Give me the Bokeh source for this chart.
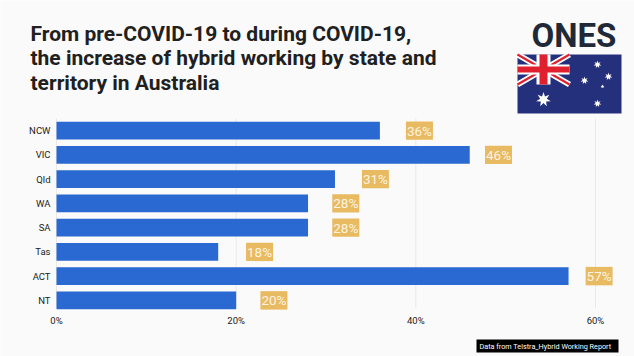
import math
from bokeh.embed import file_html
from bokeh.resources import INLINE
from bokeh.plotting import figure
from bokeh.models import ColumnDataSource, Range1d, PrintfTickFormatter, FixedTicker
from bokeh.core.properties import value

categories = ["NCW", "VIC", "Qld", "WA", "SA", "Tas", "ACT", "NT"]
values = [36, 46, 31, 28, 28, 18, 57, 20]
labels = ["36%", "46%", "31%", "28%", "28%", "18%", "57%", "20%"]
# hand-placed gap between each bar end and the start of its label, in percent points
label_gaps = [2.9, 1.7, 3.0, 2.7, 2.7, 3.1, 1.9, 2.7]
ticks = [0, 20, 40, 60]
title_lines = ["From pre-COVID-19 to during COVID-19,",
               "the increase of hybrid working by state and",
               "territory in Australia"]
source_note = "Data from Telstra_Hybrid Working Report"

BG = "#fafafa"
W, H = 634, 356
AX_L, AX_T, AX_B = 56, 118, 312      # plot area edges in page pixels
PX_PER = (595 - 56) / 60
ROW_PX = (AX_B - AX_T) / len(categories)
BOX_W = 27 / PX_PER

rows = [i + 0.5 for i in range(len(categories))]
src = ColumnDataSource(dict(
    row=rows, val=values, lab=labels,
    lx=[v + g + BOX_W / 2 for v, g in zip(values, label_gaps)],
))

p = figure(width=W, height=H, output_backend="svg", toolbar_location=None,
           x_range=Range1d(-AX_L / PX_PER, (W - AX_L) / PX_PER),
           y_range=Range1d(len(categories) + (H - AX_B) / ROW_PX, -AX_T / ROW_PX),
           min_border=0, background_fill_color=BG, border_fill_color=BG,
           outline_line_color=None)

# whole canvas is the frame, so decoration can be drawn by glyphs in page pixels
p.extra_x_ranges["px"] = Range1d(0, W)
p.extra_y_ranges["px"] = Range1d(H, 0)

p.xgrid.visible = False
p.ygrid.visible = False
for ax in (p.xaxis[0], p.yaxis[0]):
    ax.axis_line_color = None
    ax.major_tick_line_color = None
    ax.minor_tick_line_color = None
    ax.major_tick_out = 0
    ax.minor_tick_out = 0
    ax.major_label_text_font = "Roboto"
    ax.major_label_text_font_size = "9.5px"
    ax.major_label_text_color = "#222222"
p.xaxis[0].fixed_location = len(categories)
p.xaxis[0].ticker = FixedTicker(ticks=ticks)
p.xaxis[0].formatter = PrintfTickFormatter(format="%d%%")
p.xaxis[0].major_label_standoff = 2
p.yaxis[0].fixed_location = 0
p.yaxis[0].ticker = FixedTicker(ticks=rows)
p.yaxis[0].major_label_overrides = dict(zip(rows, categories))
p.yaxis[0].major_label_standoff = 6

p.segment(x0=ticks, x1=ticks, y0=[0] * len(ticks), y1=[7.8] * len(ticks),
          line_color="#e9e9e9", line_width=1)
p.hbar(y="row", right="val", left=0, height=0.74, source=src,
       fill_color="#2a69d2", line_color=None)
p.rect(x="lx", y="row", width=BOX_W, height=0.76, source=src,
       fill_color="#e8ba62", line_color=None)
p.text(x="lx", y="row", text="lab", source=src, text_align="center", text_baseline="middle",
       text_color="#fdf4e0", text_font=value("Roboto"), text_font_size="13.5px")

def lab(x, y, t, font="Roboto", size="21px", style="normal", color="#202020", baseline="middle"):
    p.text(x=[x], y=[y], text=[t], x_range_name="px", y_range_name="px",
           text_font=value(font), text_font_size=size, text_font_style=style,
           text_color=color, text_baseline=baseline)

def poly(xs, ys, color):
    p.patch(x=list(xs), y=list(ys), x_range_name="px", y_range_name="px",
            fill_color=color, line_color=None)

for i, t in enumerate(title_lines):
    lab(30, 33 + 24.5 * i, t, style="bold")

# logo
lab(531, 35, "ONES", size="33px", style="bold", color="#1f2937")

# flag
fx0, fx1, fy0, fy1 = 517, 621, 54, 113
cx0, cx1, cy1 = fx0, 569, 84
NAVY, RED = "#25307c", "#e0202e"
poly([fx0, fx1, fx1, fx0], [fy0, fy0, fy1, fy1], NAVY)
def band(x0, y0, x1, y1, w, c):
    dx, dy = x1 - x0, y1 - y0
    n = math.hypot(dx, dy)
    ox, oy = -dy / n * w / 2, dx / n * w / 2
    poly([x0 + ox, x1 + ox, x1 - ox, x0 - ox], [y0 + oy, y1 + oy, y1 - oy, y0 - oy], c)
band(cx0, fy0, cx1, cy1, 6, "#ffffff")
band(cx0, cy1, cx1, fy0, 6, "#ffffff")
band(cx0, fy0, cx1, cy1, 2.2, RED)
band(cx0, cy1, cx1, fy0, 2.2, RED)
mx, my = (cx0 + cx1) / 2, (fy0 + cy1) / 2
poly([mx - 7, mx + 7, mx + 7, mx - 7], [fy0, fy0, cy1, cy1], "#ffffff")
poly([cx0, cx1, cx1, cx0], [my - 5, my - 5, my + 5, my + 5], "#ffffff")
poly([mx - 4, mx + 4, mx + 4, mx - 4], [fy0, fy0, cy1, cy1], RED)
poly([cx0, cx1, cx1, cx0], [my - 3, my - 3, my + 3, my + 3], RED)

def star(x, y, R, n=7):
    pts = [(x + (R if k % 2 == 0 else R * 0.45) * math.sin(k * math.pi / n),
            y - (R if k % 2 == 0 else R * 0.45) * math.cos(k * math.pi / n)) for k in range(2 * n)]
    poly([q[0] for q in pts], [q[1] for q in pts], "#ffffff")
star(543, 99, 7.5)
star(597, 64, 4)
star(608, 76, 4)
star(584, 80, 4)
star(602, 86, 2, 5)
star(597, 103, 4)

# source note
poly([476, 618, 618, 476], [339, 339, 352, 352], "#000000")
lab(479, 345.5, source_note, size="7.25px", color="#ffffff")

open("out.html", "w").write(file_html(p, INLINE))
